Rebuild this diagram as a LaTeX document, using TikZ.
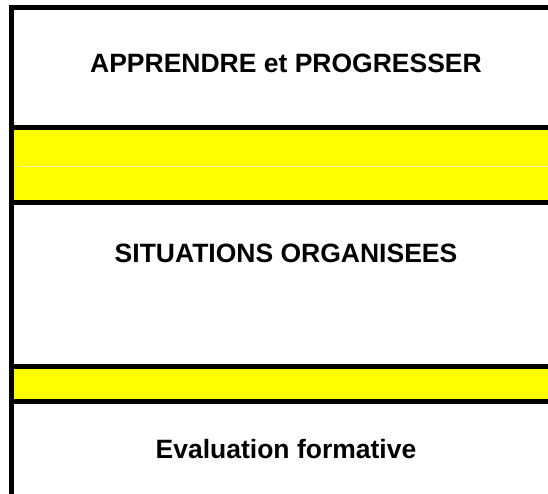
\documentclass[tikz,border=0pt]{standalone}
\usepackage{fontspec}
\setmainfont{Liberation Sans}
\definecolor{bandyellow}{RGB}{255,255,0}
\definecolor{seamyellow}{RGB}{255,255,170}
\tikzset{
  rule/.style = {line width=5pt, line join=miter},
  title/.style = {anchor=base, inner sep=0pt, font=\fontsize{26.5pt}{30pt}\selectfont\bfseries}
}

\begin{document}
\begin{tikzpicture}[x=1pt, y=-1pt]
		\useasboundingbox (0,0) rectangle (548,494);

		% yellow bands
		\fill [bandyellow] (14,130) rectangle (548,200);
		\fill [bandyellow] (14,369) rectangle (548,399);
		\draw [seamyellow, line width=0.8pt] (21,166.5) -- (548,166.5);

		% frame and rules
		\draw [rule] (548,7.5) -- (11.5,7.5) -- (11.5,494);
		\foreach \y in {127.5, 202.5, 366.5, 401.5}
			\draw [rule] (11.5,\y) -- (548,\y);

		\node [title] (apprendre) at (286,73)  {APPRENDRE et PROGRESSER};
		\node [title] (situations) at (286,262)  {SITUATIONS ORGANISEES};
		\node [title] (evaluation) at (286,458)  {Evaluation formative};
	\end{tikzpicture}
\end{document}
